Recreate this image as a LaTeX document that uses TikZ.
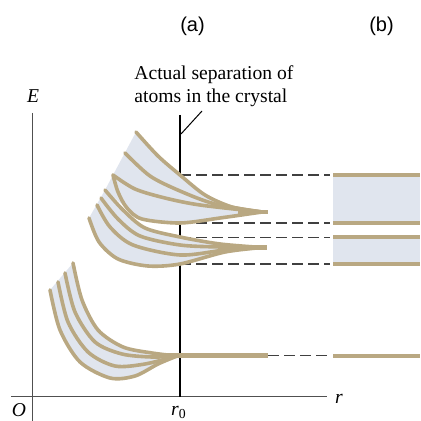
\documentclass[tikz,border=0pt]{standalone}
\usepackage{fontspec}
\setmainfont{Liberation Serif}
\newfontfamily\panelsans{Liberation Sans}
\definecolor{bandtan}{HTML}{B9A882}
\definecolor{bandblue}{HTML}{E0E5EE}
\definecolor{dashgray}{HTML}{404040}
\definecolor{axisgray}{HTML}{505050}
\begin{document}
\begin{tikzpicture}[x=0.5pt,y=-0.5pt,
  lvl/.style={draw=bandtan,line width=1.8pt,line cap=round,line join=round},
  stub/.style={draw=bandtan,line width=2.3pt},
  edge/.style={draw=bandtan,line width=2pt},
  guide/.style={draw=dashgray,line width=0.75pt,dash pattern=on 5.5pt off 2.5pt},
  axisline/.style={draw=axisgray,line width=0.6pt},
  lbl/.style={inner sep=0pt,font=\fontsize{9.8}{11}\selectfont},
  panel/.style={inner sep=0pt,font=\panelsans\fontsize{10}{12}\selectfont}]
\useasboundingbox (0,0) rectangle (420,421);
% axes
\coordinate (ytop) at (32.5,113);
\coordinate (ybot) at (32.5,421);
\coordinate (xl) at (11,396.5);
\coordinate (xr) at (327,396.5);
\draw[axisline] (ytop) -- (ybot);
\draw[axisline] (xl) -- (xr);
% r0 line and pointer
\coordinate (r0top) at (180,115);
\coordinate (r0bot) at (180,396.5);
\draw[black,line width=1pt] (r0top) -- (r0bot);
\coordinate (ptA) at (181,134);
\coordinate (ptB) at (202,111);
\draw[black,line width=0.5pt] (ptA) -- (ptB);
% fills
\fill[bandblue] plot[smooth] coordinates {(136,132) (158,156) (180,175) (205,195) (232,207) (262,212)}
  -- plot[smooth] coordinates {(262,212) (220,218) (180,223) (142,219) (127,208) (118,192) (113,175)} -- cycle;
\fill[bandblue] plot[smooth] coordinates {(105,190) (123,210) (145,228) (180,237) (220,244) (262,247.5)}
  -- plot[smooth] coordinates {(262,247.5) (225,252) (180,264) (148,266) (118,259) (99,242) (89,218)} -- cycle;
\fill[bandblue] (113,175) -- (105,190) -- (124,206) -- (118,190) -- cycle;
\fill[bandblue] plot[smooth] coordinates {(50,290) (60,330) (80,362) (110,378) (135,376) (158,364) (177,356)}
  -- plot[smooth] coordinates {(177,356) (152,353) (123,347) (98,330) (82,300) (73,263)} -- cycle;
% dashed guides
\coordinate (g1) at (180,175);   \coordinate (h1) at (330,175);
\coordinate (g2) at (180,223);   \coordinate (h2) at (330,223);
\coordinate (g3) at (180,237.5); \coordinate (h3) at (330,237.5);
\coordinate (g4) at (180,264);   \coordinate (h4) at (330,264);
\coordinate (g5) at (268,355.5); \coordinate (h5) at (330,355.5);
\draw[guide] (g1) -- (h1);
\draw[guide] (g2) -- (h2);
\draw[guide] (g3) -- (h3);
\draw[guide] (g4) -- (h4);
\draw[guide] (g5) -- (h5);
% upper group, band 1
\draw[lvl] plot[smooth] coordinates {(136,132) (158,156) (180,175) (205,195) (232,207) (262,212)};
\draw[lvl] plot[smooth] coordinates {(125,153) (150,176) (180,191) (215,204) (262,212)};
\draw[lvl] plot[smooth] coordinates {(113,175) (135,189) (165,198) (200,205) (262,212)};
\draw[lvl] plot[smooth] coordinates {(113,175) (118,192) (127,208) (142,219) (180,223) (220,218) (262,212)};
% upper group, band 2
\draw[lvl] plot[smooth] coordinates {(105,190) (123,210) (145,228) (180,237) (220,244) (262,247.5)};
\draw[lvl] plot[smooth] coordinates {(101,198) (118,219) (140,236) (180,245) (220,247) (262,247.5)};
\draw[lvl] plot[smooth] coordinates {(97,205) (110,227) (133,245) (180,255) (225,250) (262,247.5)};
\draw[lvl] plot[smooth] coordinates {(89,218) (99,242) (118,259) (148,266) (180,264) (225,252) (262,247.5)};
% lower group
\draw[lvl] plot[smooth] coordinates {(50,290) (60,330) (80,362) (110,378) (135,376) (158,364) (177,356)};
\draw[lvl] plot[smooth] coordinates {(58,282) (68,322) (88,352) (115,366) (145,364) (177,356)};
\draw[lvl] plot[smooth] coordinates {(65,273) (75,312) (95,342) (122,354) (152,357) (177,356)};
\draw[lvl] plot[smooth] coordinates {(73,263) (82,300) (98,330) (123,347) (152,353) (177,356)};
% stubs
\coordinate (s1a) at (238,212);   \coordinate (s1b) at (268,212);
\coordinate (s2a) at (238,247.5); \coordinate (s2b) at (267,247.5);
\coordinate (s3a) at (160,355.5); \coordinate (s3b) at (268,355.5);
\draw[stub] (s1a) -- (s1b);
\draw[stub] (s2a) -- (s2b);
\draw[stub] (s3a) -- (s3b);
% panel (b)
\fill[bandblue] (333,175) rectangle (420,223);
\fill[bandblue] (333,237.5) rectangle (420,264);
\coordinate (b1l) at (333,175);   \coordinate (b1r) at (420,175);
\coordinate (b2l) at (333,223);   \coordinate (b2r) at (420,223);
\coordinate (b3l) at (333,237.5); \coordinate (b3r) at (420,237.5);
\coordinate (b4l) at (333,264);   \coordinate (b4r) at (420,264);
\coordinate (b5l) at (333,355.5); \coordinate (b5r) at (420,355.5);
\draw[edge] (b1l) -- (b1r);
\draw[edge] (b2l) -- (b2r);
\draw[edge] (b3l) -- (b3r);
\draw[edge] (b4l) -- (b4r);
\draw[edge] (b5l) -- (b5r);
% labels
\node[lbl,anchor=base west] (cap1) at (134,80) {Actual separation of};
\node[lbl,anchor=base west] (cap2) at (134,103) {atoms in the crystal};
\node[lbl,anchor=base] (Elbl) at (33,103) {\textit{E}};
\node[lbl,anchor=base] (Olbl) at (19,416) {\textit{O}};
\node[lbl,anchor=base] (rlbl) at (339,403) {\textit{r}};
\node[lbl,anchor=base] (r0lbl) at (179,415) {\textit{r}\textsubscript{0}};
\node[panel,anchor=base] (alab) at (192.5,32) {(a)};
\node[panel,anchor=base] (blab) at (381.5,32) {(b)};
\end{tikzpicture}
\end{document}
